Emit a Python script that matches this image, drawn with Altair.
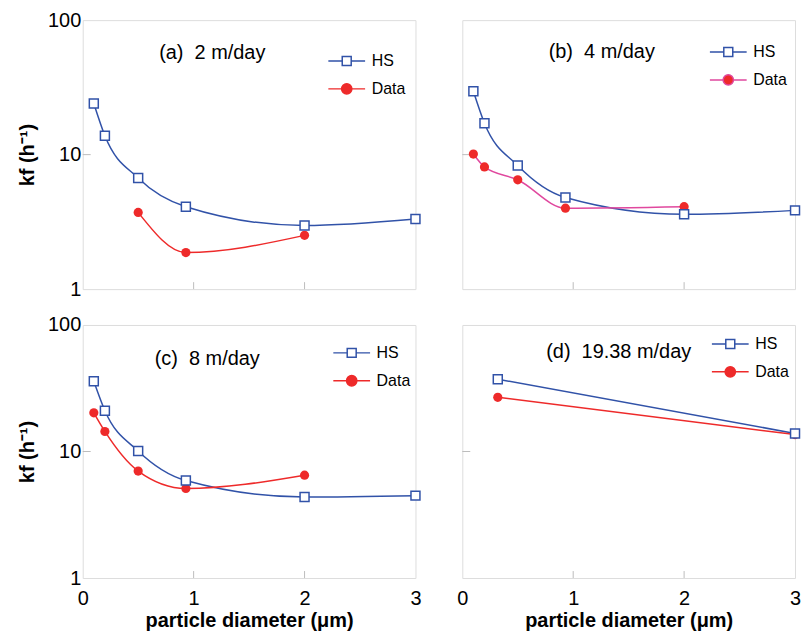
import altair as alt
import pandas as pd

FONT = "Liberation Sans"
BLUE = "#3152a8"
RED = "#ee2a2a"
PINK = "#e0489e"
GRAY = "#bdbdbd"

SERIES = ["HS", "Data"]
X_TICKS = [0, 1, 2, 3]
Y_TICKS = [1, 10, 100]
X_INNER = [1, 2]
Y_INNER = [10]

# (a) 2 m/day
a_hs_x = [0.1, 0.2, 0.5, 0.93, 2.0, 3.0]
a_hs_y = [24.0, 13.8, 6.7, 4.1, 2.97, 3.32]
a_data_x = [0.5, 0.93, 2.0]
a_data_y = [3.72, 1.87, 2.51]
# (b) 4 m/day
b_hs_x = [0.1, 0.2, 0.5, 0.93, 2.0, 3.0]
b_hs_y = [29.6, 17.1, 8.3, 4.8, 3.6, 3.85]
b_data_x = [0.1, 0.2, 0.5, 0.93, 2.0]
b_data_y = [10.1, 8.1, 6.5, 4.0, 4.1]
# (c) 8 m/day
c_hs_x = [0.1, 0.2, 0.5, 0.93, 2.0, 3.0]
c_hs_y = [35.9, 21.0, 10.1, 5.9, 4.37, 4.48]
c_data_x = [0.1, 0.2, 0.5, 0.93, 2.0]
c_data_y = [20.2, 14.4, 7.0, 5.1, 6.5]
# (d) 19.38 m/day
d_hs_x = [0.32, 3.0]
d_hs_y = [37.3, 13.9]
d_data_x = [0.32, 3.0]
d_data_y = [26.8, 13.6]

PATH_SQ = "M-4.1,0L-1,0M1,0L4.1,0M-1,-1L1,-1L1,1L-1,1Z"
PATH_CI = ("M-4.1,0L-1.15,0M1.15,0L4.1,0"
           "M1.15,0C1.15,0.635 0.635,1.15 0,1.15C-0.635,1.15 -1.15,0.635 -1.15,0"
           "C-1.15,-0.635 -0.635,-1.15 0,-1.15C0.635,-1.15 1.15,-0.635 1.15,0Z")


def panel(label, hs_x, hs_y, dx, dy, data_line, w, h, xlab, ylab, lx, ly, tx, ty):
    hs = pd.DataFrame({"d": hs_x, "k": hs_y})
    dd = pd.DataFrame({"d": dx, "k": dy})
    xs = alt.Scale(domain=[0, 3], nice=False, zero=False)
    ys = alt.Scale(type="log", domain=[1, 100], nice=False)
    if xlab:
        xax = alt.Axis(values=X_TICKS, title="particle diameter (μm)", grid=False,
                       domain=False, ticks=False, tickSize=0, labelFlush=False,
                       labelFont=FONT, labelFontSize=20, labelColor="black",
                       labelPadding=11, titleFont=FONT, titleFontSize=20,
                       titleFontWeight="bold", titleColor="black", titlePadding=2,
                       format="d")
    else:
        xax = None
    if ylab:
        yax = alt.Axis(values=Y_TICKS, title="kf (h⁻¹)", grid=False,
                       domain=False, ticks=False, tickSize=0, labelFlush=False,
                       labelOverlap=False, labelFont=FONT, labelFontSize=20,
                       labelColor="black", labelPadding=2, titleFont=FONT,
                       titleFontSize=20, titleFontWeight="bold",
                       titleColor="black", titlePadding=10, format="d")
    else:
        yax = None
    X = alt.X("d:Q", scale=xs, axis=xax)
    Y = alt.Y("k:Q", scale=ys, axis=yax)

    hs_line = alt.Chart(hs).mark_line(color=BLUE, strokeWidth=1.5,
                                      interpolate="monotone").encode(x=X, y=Y)
    d_line = alt.Chart(dd).mark_line(color=data_line, strokeWidth=1.5,
                                     interpolate="monotone").encode(x=X, y=Y)
    d_pts = alt.Chart(dd).mark_circle(color=RED, size=85, opacity=1).encode(x=X, y=Y)
    hs_pts = alt.Chart(hs).mark_square(fill="white", stroke=BLUE, strokeWidth=1.5,
                                       size=81, opacity=1).encode(x=X, y=Y)

    xt = alt.Chart(pd.DataFrame({"d": X_INNER})).mark_rule(
        color=GRAY, strokeWidth=1).encode(
        x=X, y=alt.value(h), y2=alt.value(h - 7))
    yt = alt.Chart(pd.DataFrame({"k": Y_INNER})).mark_rule(
        color=GRAY, strokeWidth=1).encode(
        y=Y, x=alt.value(0), x2=alt.value(8))

    lg = alt.Legend(orient="none", legendX=lx, legendY=ly, title=None,
                    labelFont=FONT, labelFontSize=16, labelColor="black",
                    symbolSize=81, symbolStrokeWidth=1.5, labelOffset=17,
                    rowPadding=11, padding=0)
    leg = alt.Chart(pd.DataFrame({"series": SERIES})).transform_filter(
        "false").mark_point(opacity=1, filled=True).encode(
        shape=alt.Shape("series:N", scale=alt.Scale(domain=SERIES, range=[PATH_SQ, PATH_CI]), legend=lg),
        stroke=alt.Stroke("series:N", scale=alt.Scale(domain=SERIES, range=[BLUE, data_line]), legend=lg),
        fill=alt.Fill("series:N", scale=alt.Scale(domain=SERIES, range=["white", RED]), legend=lg),
    )

    ttl = alt.Chart(pd.DataFrame({"t": [label]})).mark_text(
        font=FONT, fontSize=20, color="black", align="center",
        baseline="middle").encode(text="t:N", x=alt.value(tx), y=alt.value(ty))

    return alt.layer(xt, yt, hs_line, d_line, d_pts, hs_pts, leg, ttl).properties(
        width=w, height=h)


pa = panel("(a)\u00a0 2 m/day", a_hs_x, a_hs_y, a_data_x, a_data_y, RED,
           334, 270, False, True, 257, 33, 130, 33)
pb = panel("(b)\u00a0 4 m/day", b_hs_x, b_hs_y, b_data_x, b_data_y, PINK,
           334, 270, False, False, 259, 24, 140, 32)
pc = panel("(c)\u00a0 8 m/day", c_hs_x, c_hs_y, c_data_x, c_data_y, RED,
           334, 254, True, True, 262, 20, 125, 34)
pd_ = panel("(d)\u00a0 19.38 m/day", d_hs_x, d_hs_y, d_data_x, d_data_y, RED,
            334, 254, True, False, 261, 11, 157, 27)

chart = alt.concat(pa, pb, pc, pd_, columns=2, spacing={"row": 36, "column": 47},
                   bounds="flush").resolve_scale(
    shape="independent", stroke="independent", fill="independent"
).resolve_legend(
    shape="independent", stroke="independent", fill="independent"
).properties(
    padding={"left": 9, "top": 0, "right": 0, "bottom": 0}
).configure_view(stroke=GRAY, strokeWidth=1.3).configure(background="white")

chart.save("out.html", embed_options={"renderer": "svg", "actions": False})
